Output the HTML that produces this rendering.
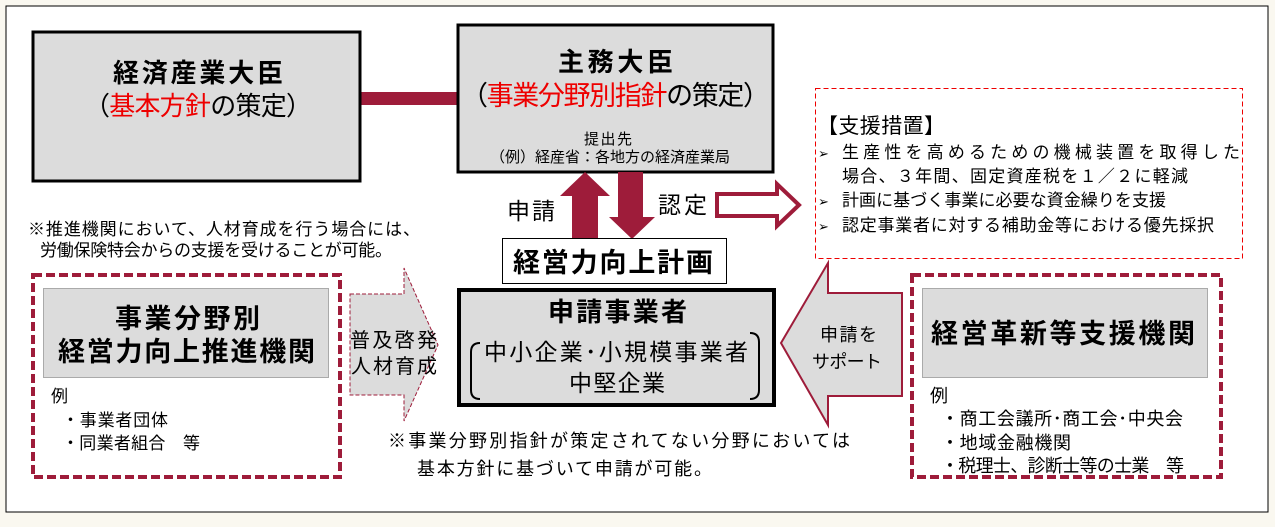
<!DOCTYPE html>
<html><head><meta charset="utf-8"><style>
body{margin:0;background:#faf8f0;}
svg{display:block;font-family:"Liberation Sans","Noto Sans CJK JP",sans-serif;}
</style></head><body>
<svg width="1275" height="527" viewBox="0 0 1275 527">
<rect x="6" y="6" width="1262" height="506" fill="#fff" stroke="#000" stroke-width="1"/>
<!-- connector -->
<rect x="358" y="92" width="101" height="13" fill="#9e1c3a"/>
<!-- box1 -->
<rect x="33" y="32" width="327" height="149" fill="#dcdcdc" stroke="#000" stroke-width="3"/>
<text x="113" y="82" font-size="26" font-weight="bold" textLength="170">経済産業大臣</text>
<text x="84" y="115" font-size="26" textLength="228">（<tspan fill="#e00">基本方針</tspan>の策定）</text>
<!-- box2 -->
<rect x="458" y="25" width="315" height="147" fill="#dcdcdc" stroke="#000" stroke-width="3"/>
<text x="558" y="71" font-size="26" font-weight="bold" textLength="115">主務大臣</text>
<text x="461" y="105" font-size="27" textLength="309">（<tspan fill="#e00">事業分野別指針</tspan>の策定）</text>
<text x="584" y="144" font-size="15" textLength="48">提出先</text>
<text x="490" y="162" font-size="15" textLength="240">（例）経産省：各地方の経済産業局</text>
<!-- up/down arrows -->
<polygon points="585,172 610,196 598,196 598,239 572,239 572,196 560,196" fill="#9e1c3a"/>
<polygon points="618,172 643,172 643,217 655,217 632,239 609,217 618,217" fill="#9e1c3a"/>
<text x="507" y="219" font-size="23" textLength="48">申請</text>
<text x="658" y="213" font-size="23" textLength="49">認定</text>
<polygon points="717,194 777,194 777,184 799,205 777,226 777,216 717,216" fill="#fff" stroke="#9e1c3a" stroke-width="4"/>
<!-- plan box -->
<rect x="502.5" y="238.5" width="224" height="45" fill="#fff" stroke="#000" stroke-width="1"/>
<text x="513" y="272" font-size="27" font-weight="bold" textLength="200">経営力向上計画</text>
<!-- support box -->
<rect x="815.5" y="88.5" width="427" height="170" fill="#fff" stroke="#e00" stroke-width="1" stroke-dasharray="5,3"/>
<text x="817" y="133" font-size="21" textLength="128">【支援措置】</text>
<g font-size="17">
<text x="818" y="158" font-size="13">➢</text><text x="842" y="158" textLength="398">生産性を高めるための機械装置を取得した</text>
<text x="842" y="182" textLength="346">場合、３年間、固定資産税を１／２に軽減</text>
<text x="818" y="206" font-size="13">➢</text><text x="842" y="206" textLength="324">計画に基づく事業に必要な資金繰りを支援</text>
<text x="818" y="231" font-size="13">➢</text><text x="842" y="231" textLength="372">認定事業者に対する補助金等における優先採択</text>
</g>
<!-- left note -->
<text x="28" y="235" font-size="17" textLength="392">※推進機関において、人材育成を行う場合には、</text>
<text x="40" y="256" font-size="17" textLength="352">労働保険特会からの支援を受けることが可能。</text>
<!-- left dashed box -->
<rect x="33" y="275" width="307" height="202" fill="#fff" stroke="#9e1c3a" stroke-width="4" stroke-dasharray="9,4"/>
<rect x="43.5" y="288.5" width="285" height="89" fill="#dcdcdc" stroke="#aaa" stroke-width="1"/>
<text x="115" y="328" font-size="27" font-weight="bold" textLength="145">事業分野別</text>
<text x="58" y="361" font-size="27" font-weight="bold" textLength="257">経営力向上推進機関</text>
<g font-size="17"><text x="51" y="402">例</text><text x="62" y="426" textLength="106">・事業者団体</text><text x="62" y="449" textLength="138">・同業者組合　等</text></g>
<!-- dashed arrow -->
<polygon points="350,294 404,294 404,268 438,345 404,421 404,395 350,395" fill="#dcdcdc" stroke="#9e1c3a" stroke-width="1" stroke-dasharray="4,2"/>
<text x="350" y="347" font-size="20" textLength="87">普及啓発</text>
<text x="351" y="373" font-size="20" textLength="86">人材育成</text>
<!-- applicant -->
<rect x="459" y="290" width="315" height="115" fill="#dcdcdc" stroke="#000" stroke-width="4"/>
<text x="548" y="321" font-size="26" font-weight="bold" textLength="139">申請事業者</text>
<text x="484" y="360" font-size="23" textLength="264">中小企業･小規模事業者</text>
<text x="569" y="391" font-size="23" textLength="96">中堅企業</text>
<path d="M480,343 Q471,343 471,352 L471,390 Q471,399 480,399" fill="none" stroke="#000" stroke-width="2"/>
<path d="M750,333 Q759,333 759,342 L759,390 Q759,399 750,399" fill="none" stroke="#000" stroke-width="2"/>
<!-- left-pointing arrow -->
<polygon points="781,343 828,263 828,293 902,293 902,396 828,396 828,425" fill="#dcdcdc" stroke="#9e1c3a" stroke-width="2"/>
<text x="820" y="341" font-size="18" textLength="57">申請を</text>
<text x="812" y="368" font-size="18" textLength="70">サポート</text>
<!-- bottom note -->
<text x="388" y="447" font-size="18" textLength="462">※事業分野別指針が策定されてない分野においては</text>
<text x="417" y="475" font-size="18" textLength="295">基本方針に基づいて申請が可能。</text>
<!-- right dashed box -->
<rect x="912" y="275" width="309" height="202" fill="#fff" stroke="#9e1c3a" stroke-width="4" stroke-dasharray="9,4"/>
<rect x="922.5" y="288.5" width="285" height="89" fill="#dcdcdc" stroke="#aaa" stroke-width="1"/>
<text x="931" y="343" font-size="27" font-weight="bold" textLength="264">経営革新等支援機関</text>
<g font-size="18"><text x="930" y="402">例</text><text x="941" y="425" textLength="242">・商工会議所･商工会･中央会</text><text x="941" y="449" textLength="130">・地域金融機関</text><text x="941" y="472" textLength="243">・税理士、診断士等の士業　等</text></g>
</svg>
</body></html>
